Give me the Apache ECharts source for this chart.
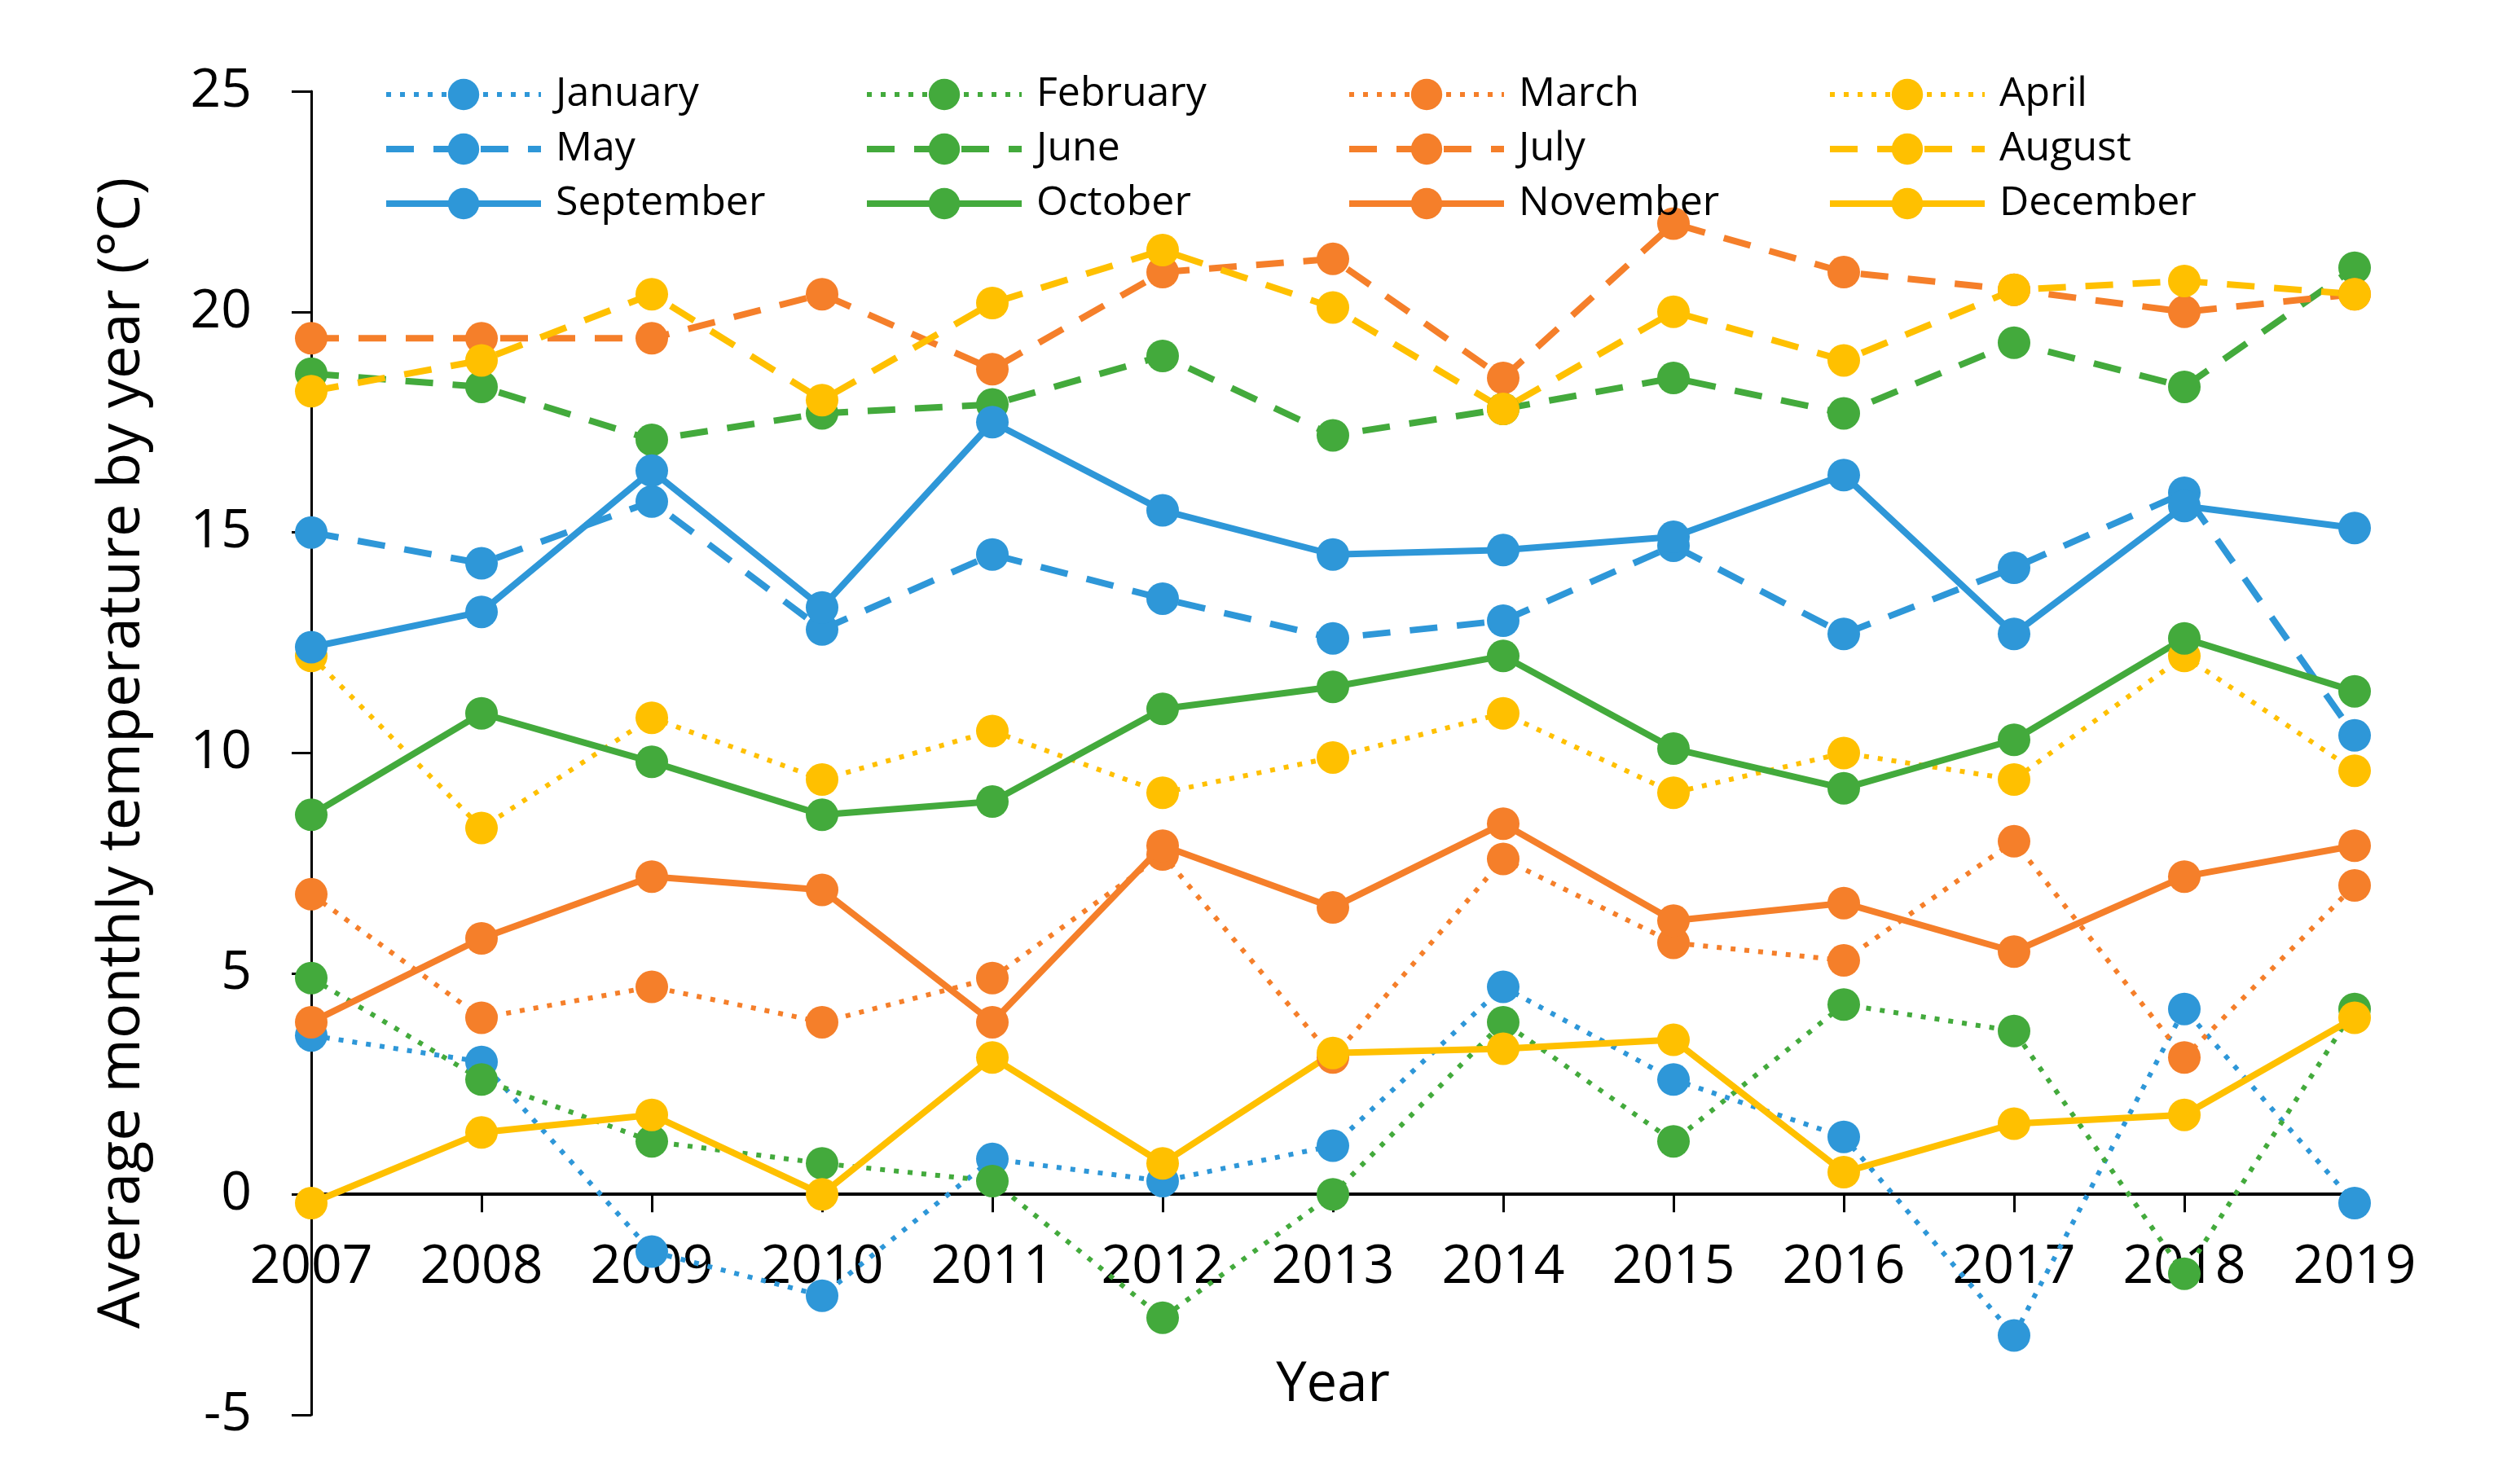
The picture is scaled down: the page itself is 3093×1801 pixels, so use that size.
<!DOCTYPE html>
<html>
<head>
<meta charset="utf-8">
<script src="https://cdn.jsdelivr.net/npm/echarts@6/dist/echarts.min.js"></script>
<style>
  html, body { margin: 0; padding: 0; background: #fff; }
  #chart { width: 3093px; height: 1801px; }
</style>
</head>
<body>
<div id="chart"></div>
<script>
const years = ['2007','2008','2009','2010','2011','2012','2013','2014','2015','2016','2017','2018','2019'];
const monthNames = ['January','February','March','April','May','June','July','August','September','October','November','December'];

const january   = [3.6, 3.0, -1.3, -2.3, 0.8, 0.3, 1.1, 4.7, 2.6, 1.3, -3.2, 4.2, -0.2];
const february  = [4.9, 2.6, 1.2, 0.7, 0.3, -2.8, 0.0, 3.9, 1.2, 4.3, 3.7, -1.8, 4.2];
const march     = [6.8, 4.0, 4.7, 3.9, 4.9, 7.7, 3.1, 7.6, 5.7, 5.3, 8.0, 3.1, 7.0];
const april     = [12.2, 8.3, 10.8, 9.4, 10.5, 9.1, 9.9, 10.9, 9.1, 10.0, 9.4, 12.2, 9.6];
const may       = [15.0, 14.3, 15.7, 12.8, 14.5, 13.5, 12.6, 13.0, 14.7, 12.7, 14.2, 15.9, 10.4];
const june      = [18.6, 18.3, 17.1, 17.7, 17.9, 19.0, 17.2, 17.8, 18.5, 17.7, 19.3, 18.3, 21.0];
const july      = [19.4, 19.4, 19.4, 20.4, 18.7, 20.9, 21.2, 18.5, 22.0, 20.9, 20.5, 20.0, 20.4];
const august    = [18.2, 18.9, 20.4, 18.0, 20.2, 21.4, 20.1, 17.8, 20.0, 18.9, 20.5, 20.7, 20.4];
const september = [12.4, 13.2, 16.4, 13.3, 17.5, 15.5, 14.5, 14.6, 14.9, 16.3, 12.7, 15.6, 15.1];
const october   = [8.6, 10.9, 9.8, 8.6, 8.9, 11.0, 11.5, 12.2, 10.1, 9.2, 10.3, 12.6, 11.4];
const november  = [3.9, 5.8, 7.2, 6.9, 3.9, 7.9, 6.5, 8.4, 6.2, 6.6, 5.5, 7.2, 7.9];
const december  = [-0.2, 1.4, 1.8, 0.0, 3.1, 0.7, 3.2, 3.3, 3.5, 0.5, 1.6, 1.8, 4.0];

const yTicks = { min: -5, max: 25, interval: 5 };

const monthValues = [january, february, march, april, may, june, july, august, september, october, november, december];
const palette = ['#2E97D8', '#43AA3C', '#F57F2A', '#FFC000'];
const FONT = 'Open Sans';

function styleFor(i) {
  if (i < 4) return { width: 6, type: [6, 11] };
  if (i < 8) return { width: 8, type: [34, 24] };
  return { width: 8, type: 'solid' };
}

const series = monthNames.map((name, i) => {
  const ls = styleFor(i);
  return {
    name: name,
    type: 'line',
    data: monthValues[i],
    symbol: 'circle',
    symbolSize: 40,
    showSymbol: true,
    color: palette[i % 4],
    itemStyle: { color: palette[i % 4] },
    lineStyle: { color: palette[i % 4], width: ls.width, type: ls.type },
    emphasis: { disabled: true }
  };
});

const legendLefts = [465, 1055, 1647, 2237];
const legends = [0, 1, 2, 3].map(c => ({
  orient: 'vertical',
  left: legendLefts[c],
  top: 86,
  itemWidth: 190,
  itemHeight: 48,
  itemGap: 17,
  selectedMode: false,
  data: [c, c + 4, c + 8].map(i => {
    const ls = styleFor(i);
    return {
      name: monthNames[i],
      lineStyle: { color: palette[i % 4], width: ls.width, type: ls.type }
    };
  }),
  lineStyle: { width: 7 },
  textStyle: { fontFamily: FONT, fontSize: 50, color: '#000', padding: [0, 0, 0, 13] }
}));

const chart = echarts.init(document.getElementById('chart'), null, { renderer: 'canvas', width: 3093, height: 1801 });
chart.setOption({
  animation: false,
  backgroundColor: '#fff',
  grid: { left: 382, right: 203, top: 112, bottom: 64, containLabel: false, outerBoundsMode: 'none' },
  legend: legends,
  xAxis: {
    type: 'category',
    data: years,
    boundaryGap: false,
    name: 'Year',
    nameLocation: 'middle',
    nameGap: -70,
    nameTextStyle: { fontFamily: FONT, fontSize: 67, color: '#000' },
    axisLine: { onZero: true, lineStyle: { color: '#000', width: 4 } },
    axisTick: { show: true, length: 22, lineStyle: { color: '#000', width: 3 } },
    axisLabel: { fontFamily: FONT, fontSize: 66, color: '#000', margin: -214 },
    splitLine: { show: false }
  },
  yAxis: {
    type: 'value',
    min: yTicks.min,
    max: yTicks.max,
    interval: yTicks.interval,
    name: 'Average monthly temperature by year (°C)',
    nameLocation: 'middle',
    nameRotate: 90,
    nameGap: 196,
    nameTextStyle: { fontFamily: FONT, fontSize: 72, color: '#000' },
    axisLine: { show: true, lineStyle: { color: '#000', width: 3 } },
    axisTick: { show: true, length: 24, lineStyle: { color: '#000', width: 3 } },
    axisLabel: { fontFamily: FONT, fontSize: 66, color: '#000', margin: 73 },
    splitLine: { show: false }
  },
  series: series
});
</script>
</body>
</html>
